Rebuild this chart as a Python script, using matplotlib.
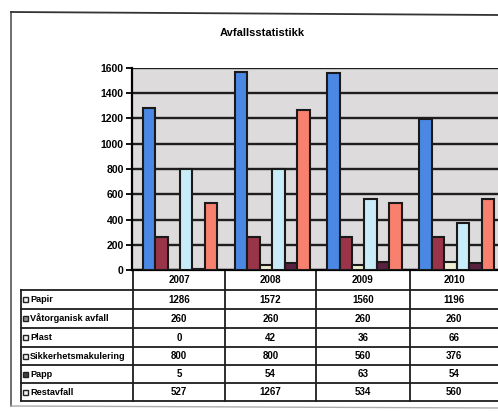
import matplotlib
matplotlib.use("Agg")
import matplotlib.pyplot as plt
import numpy as np

plt.rcParams['font.family'] = ['Liberation Sans', 'DejaVu Sans']

years = ["2007", "2008", "2009", "2010"]
series = ["Papir", "Våtorganisk avfall", "Plast", "Sikkerhetsmakulering", "Papp", "Restavfall"]
papir = [1286, 1572, 1560, 1196]
vatorganisk = [260, 260, 260, 260]
plast = [0, 42, 36, 66]
sikkerhet = [800, 800, 560, 376]
papp = [5, 54, 63, 54]
restavfall = [527, 1267, 534, 560]
values = [papir, vatorganisk, plast, sikkerhet, papp, restavfall]
colors = ["#4a88e4", "#9a3448", "#eeeed0", "#c8ecf8", "#5a2040", "#f8806e"]
key_colors = ["#f4f4f4", "#909090", "#f4f4f4", "#f4f4f4", "#404040", "#f4f4f4"]
yticks = [0, 200, 400, 600, 800, 1000, 1200, 1400, 1600]
title = "Avfallsstatistikk"

W, H = 498, 411
fig = plt.figure(figsize=(W / 100, H / 100), dpi=100)
fig.patch.set_facecolor("white")

def px_axes(x0, y0, x1, y1):
    return [x0 / W, 1 - y1 / H, (x1 - x0) / W, (y1 - y0) / H]

ov = fig.add_axes([0, 0, 1, 1])
ov.set_xlim(0, W)
ov.set_ylim(H, 0)
ov.axis("off")
ov.patch.set_alpha(0)

ax = fig.add_axes(px_axes(132, 68, 501, 270))
ax.set_facecolor("#dddbdc")
ax.set_xlim(-0.5, 3.5)
ax.set_ylim(0, 1600)
x = np.arange(len(years))
bw = 0.135
for k, (vals, c) in enumerate(zip(values, colors)):
    ax.bar(x - 0.385 + (k + 0.5) * bw, vals, width=bw, color=c,
           edgecolor="#1a1a1a", linewidth=1.5, zorder=3)
ax.set_yticks(yticks)
ax.set_yticklabels([str(t) for t in yticks], fontsize=7.5, fontweight="bold")
ax.yaxis.grid(True, color="#1e1e1e", linewidth=1.7, zorder=1)
ax.set_axisbelow(True)
ax.set_xticks([])
for s in ["top", "right"]:
    ax.spines[s].set_visible(False)
ax.spines["left"].set_linewidth(1.6)
ax.spines["bottom"].set_linewidth(1.6)
ax.tick_params(axis="y", length=4, width=1.3, pad=2)

# outer frame
ov.plot([11, 11], [12, 406], color="#555555", lw=1.2)
ov.plot([11, 498], [12, 15], color="#333333", lw=1.3)
ov.plot([11, 498], [406, 408], color="#aaaaaa", lw=1.0)

ov.text(262, 33, title, ha="center", va="center", fontsize=8, fontweight="bold")

# table
col_edges = [133, 225, 316, 410, 501]
row_edges = [270, 290, 309, 328, 347, 365, 383, 401]
lc = "#1e1e1e"
for xe in col_edges[:-1]:
    ov.plot([xe, xe], [268, row_edges[-1]], color=lc, lw=1.3)
ov.plot([21, 21], [row_edges[1], row_edges[-1]], color=lc, lw=1.3)
for i, ye in enumerate(row_edges):
    x0 = 133 if i == 0 else 21
    ov.plot([x0, 501], [ye, ye], color=lc, lw=1.3)

for j, yr in enumerate(years):
    cx = (col_edges[j] + min(col_edges[j + 1], 498)) / 2
    ov.text(cx, (row_edges[0] + row_edges[1]) / 2, yr, ha="center", va="center",
            fontsize=7, fontweight="bold")
for r, (name, vals) in enumerate(zip(series, values)):
    cy = (row_edges[r + 1] + row_edges[r + 2]) / 2
    ov.add_patch(plt.Rectangle((23, cy - 2.5), 5, 5, facecolor=key_colors[r],
                               edgecolor="#222222", lw=1.0))
    ov.text(30, cy, name, ha="left", va="center", fontsize=6.6, fontweight="bold")
    for j, v in enumerate(vals):
        cx = (col_edges[j] + min(col_edges[j + 1], 498)) / 2
        ov.text(cx, cy, str(v), ha="center", va="center", fontsize=7, fontweight="bold")

fig.savefig("out.png", dpi=100)
